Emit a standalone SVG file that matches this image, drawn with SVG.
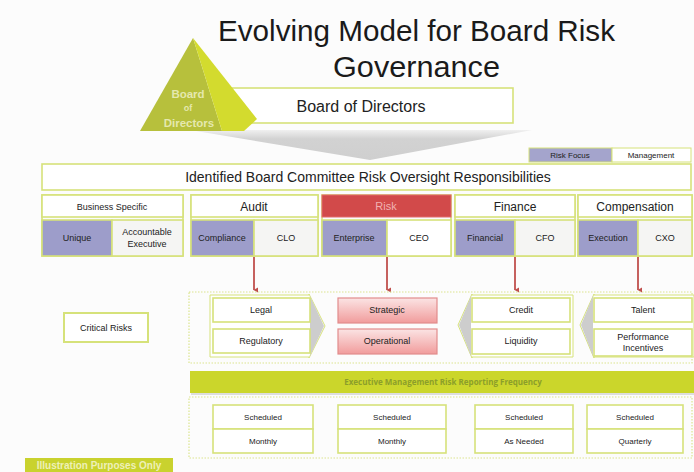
<svg xmlns="http://www.w3.org/2000/svg" width="694" height="472" viewBox="0 0 694 472">
<defs>
<linearGradient id="pink" x1="0" y1="0" x2="0" y2="1">
<stop offset="0" stop-color="#fbe4e4"/>
<stop offset="1" stop-color="#f19c9c"/>
</linearGradient>
<linearGradient id="grayfade" x1="0" y1="0" x2="0" y2="1">
<stop offset="0" stop-color="#f0f0f0"/>
<stop offset="0.3" stop-color="#d2d2d2"/>
<stop offset="1" stop-color="#cfcfcf"/>
</linearGradient>
<marker id="ah" markerWidth="6" markerHeight="6" refX="3" refY="5" orient="auto-start-reverse" markerUnits="userSpaceOnUse">
<path d="M0.5,1 L3,5.5 L5.5,1 Z" fill="#c0504d"/>
</marker>
<style>
.t{font-family:"Liberation Sans",Arial,sans-serif;fill:#222;text-anchor:middle}
.ttl{font-family:"Liberation Sans",Arial,sans-serif;fill:#1a1a1a;text-anchor:middle}
.box{fill:#ffffff;stroke:#d6e27a;stroke-width:1.6}
.cell{fill:#f5f5f3;stroke:#d6e27a;stroke-width:1.6}
.pur{fill:#9d9dca;stroke:#d6e27a;stroke-width:1.6}
.grp{fill:none;stroke:#d6e27a;stroke-width:1.6}
.dot{fill:none;stroke:#dbe48e;stroke-width:1.2;stroke-dasharray:1.5 1.5}
.red{fill:url(#pink);stroke:#e28c8c;stroke-width:1.2}
.chev{fill:#ffffff;stroke:#d6e27a;stroke-width:1}
.arr{stroke:#c0504d;stroke-width:1.8;fill:none;marker-end:url(#ah)}
.s9{font-size:9px}
.s8{font-size:8px}
.s12{font-size:12px}
</style>
</defs>
<rect width="694" height="472" fill="#fcfcfc"/>

<g id="title">
<text class="ttl" x="416.5" y="41" font-size="29" textLength="397" lengthAdjust="spacingAndGlyphs">Evolving Model for Board Risk</text>
<text class="ttl" x="416.5" y="77" font-size="29" textLength="167" lengthAdjust="spacingAndGlyphs">Governance</text>
</g>

<g id="flow-arrow">
<polygon points="190,130 532,130 370,160" fill="url(#grayfade)"/>
</g>

<g id="board">
<rect class="box" x="225" y="88" width="288" height="35"/>
<text class="t" x="361" y="112" font-size="16">Board of Directors</text>
</g>

<g id="pyramid">
<polygon points="193,38 140,131 222,131" fill="#b7c03c"/>
<polygon points="193,38 222,131 244,131 257,119" fill="#d3db2e"/>
<g font-family="'Liberation Sans',Arial,sans-serif" font-weight="bold" fill="#eef0c4" fill-opacity="0.85" text-anchor="middle">
<text x="188" y="98" font-size="11.5">Board</text>
<text x="188" y="111" font-size="9">of</text>
<text x="189" y="127" font-size="11.5">Directors</text>
</g>
</g>

<g id="legend">
<rect x="529" y="148" width="83" height="14" fill="#a4a4cc" stroke="#d6e27a" stroke-width="1"/>
<text class="t s8" x="570" y="158">Risk Focus</text>
<rect x="612" y="148" width="79" height="14" fill="#ffffff" stroke="#d6e27a" stroke-width="1"/>
<text class="t s8" x="651" y="158">Management</text>
</g>

<g id="header">
<rect class="box" x="42" y="164" width="649" height="26"/>
<text class="t" x="368" y="182" font-size="14">Identified Board Committee Risk Oversight Responsibilities</text>
</g>

<g id="business-specific">
<rect class="grp" x="42" y="195" width="141" height="61"/>
<rect class="box" x="42" y="195" width="141" height="22"/>
<text class="t s9" x="112" y="210">Business Specific</text>
<rect class="pur" x="42" y="220" width="70" height="36"/>
<text class="t s9" x="77" y="241">Unique</text>
<rect class="cell" x="112" y="220" width="71" height="36"/>
<text class="t s9" x="147" y="235">Accountable</text>
<text class="t s9" x="147" y="247">Executive</text>
</g>

<g id="audit">
<rect class="grp" x="191" y="195" width="127" height="61"/>
<rect class="box" x="191" y="195" width="127" height="22"/>
<text class="t s12" x="254" y="211">Audit</text>
<rect class="pur" x="191" y="220" width="63" height="36"/>
<text class="t s9" x="222" y="241">Compliance</text>
<rect class="cell" x="254" y="220" width="64" height="36"/>
<text class="t s9" x="286" y="241">CLO</text>
</g>

<g id="risk">
<rect class="grp" x="322" y="195" width="129" height="61"/>
<rect x="322" y="195" width="129" height="22" fill="#d24a4a" stroke="#e06a6a" stroke-width="1"/>
<text class="t" x="386" y="210" font-size="11" style="fill:#f1b2b2">Risk</text>
<rect class="pur" x="322" y="220" width="65" height="36"/>
<text class="t s9" x="354" y="241">Enterprise</text>
<rect class="box" x="387" y="220" width="64" height="36"/>
<text class="t s9" x="419" y="241">CEO</text>
</g>

<g id="finance">
<rect class="grp" x="455" y="195" width="120" height="61"/>
<rect class="box" x="455" y="195" width="120" height="22"/>
<text class="t s12" x="515" y="211">Finance</text>
<rect class="pur" x="455" y="220" width="60" height="36"/>
<text class="t s9" x="485" y="241">Financial</text>
<rect class="cell" x="515" y="220" width="60" height="36"/>
<text class="t s9" x="545" y="241">CFO</text>
</g>

<g id="compensation">
<rect class="grp" x="578" y="195" width="114" height="61"/>
<rect class="box" x="578" y="195" width="114" height="22"/>
<text class="t s12" x="635" y="211">Compensation</text>
<rect class="pur" x="578" y="220" width="60" height="36"/>
<text class="t s9" x="608" y="241">Execution</text>
<rect class="cell" x="638" y="220" width="54" height="36"/>
<text class="t s9" x="665" y="241">CXO</text>
</g>

<g id="connectors">
<line class="arr" x1="254" y1="257" x2="254" y2="290"/>
<line class="arr" x1="387" y1="257" x2="387" y2="290"/>
<line class="arr" x1="515" y1="257" x2="515" y2="290"/>
<line class="arr" x1="638" y1="257" x2="638" y2="290"/>
</g>

<g id="critical-risks-area">
<rect class="dot" x="189" y="292" width="503" height="71"/>
</g>

<g id="critical-risks">
<rect x="64" y="313" width="84" height="29" fill="#ffffff" stroke="#d6e27a" stroke-width="2"/>
<text class="t s9" x="106" y="331">Critical Risks</text>
</g>

<g id="audit-risks">
<polygon class="chev" points="210,295 309,295 309,294 325,326 309,358 309,357 210,357"/>
<polygon points="310,296 324,326 310,356" fill="#cdcdcd"/>
<rect class="box" x="213" y="298" width="97" height="24"/>
<text class="t s9" x="261" y="313">Legal</text>
<rect class="box" x="213" y="329" width="97" height="24"/>
<text class="t s9" x="261" y="344">Regulatory</text>
</g>

<g id="risk-risks">
<rect class="red" x="338" y="298" width="99" height="25"/>
<text class="t s9" x="387" y="313">Strategic</text>
<rect class="red" x="338" y="329" width="99" height="25"/>
<text class="t s9" x="387" y="344">Operational</text>
</g>

<g id="finance-risks">
<polygon class="chev" points="573,295 472,295 472,294 458,325 472,358 472,357 573,357"/>
<polygon points="471,296 459,325 471,356" fill="#cdcdcd"/>
<rect class="box" x="472" y="298" width="98" height="24"/>
<text class="t s9" x="521" y="313">Credit</text>
<rect class="box" x="472" y="329" width="98" height="25"/>
<text class="t s9" x="521" y="344">Liquidity</text>
</g>

<g id="compensation-risks">
<polygon class="chev" points="694,295 594,295 594,294 580,325 594,358 594,357 694,357"/>
<polygon points="593,296 581,325 593,356" fill="#cdcdcd"/>
<rect class="box" x="594" y="298" width="98" height="24"/>
<text class="t s9" x="643" y="313">Talent</text>
<rect class="box" x="594" y="329" width="98" height="27"/>
<text class="t s9" x="643" y="340">Performance</text>
<text class="t s9" x="643" y="351">Incentives</text>
</g>

<g id="frequency-bar">
<rect x="191" y="373" width="503" height="22" fill="#bdbdbd" opacity="0.5"/>
<rect x="190" y="371" width="504" height="22" fill="#cbd62b"/>
<text x="443" y="385" font-family="'Open Sans','Liberation Sans',sans-serif" font-size="8" font-weight="bold" fill="#8c9e2a" text-anchor="middle">Executive Management Risk Reporting Frequency</text>
</g>

<g id="frequency-area">
<rect class="dot" x="189" y="397" width="503" height="61"/>
</g>

<g id="freq-audit">
<rect class="box" x="213" y="405" width="100" height="24"/>
<text class="t s8" x="263" y="420">Scheduled</text>
<rect class="box" x="213" y="429" width="100" height="24"/>
<text class="t s8" x="263" y="444">Monthly</text>
</g>
<g id="freq-risk">
<rect class="box" x="338" y="405" width="108" height="24"/>
<text class="t s8" x="392" y="420">Scheduled</text>
<rect class="box" x="338" y="429" width="108" height="24"/>
<text class="t s8" x="392" y="444">Monthly</text>
</g>
<g id="freq-finance">
<rect class="box" x="475" y="405" width="98" height="24"/>
<text class="t s8" x="524" y="420">Scheduled</text>
<rect class="box" x="475" y="429" width="98" height="24"/>
<text class="t s8" x="524" y="444">As Needed</text>
</g>
<g id="freq-compensation">
<rect class="box" x="587" y="405" width="96" height="24"/>
<text class="t s8" x="635" y="420">Scheduled</text>
<rect class="box" x="587" y="429" width="96" height="24"/>
<text class="t s8" x="635" y="444">Quarterly</text>
</g>

<g id="illustration-note">
<rect x="25" y="458" width="148" height="16" fill="#c9d22e"/>
<text x="99" y="469" font-family="'Liberation Sans',Arial,sans-serif" font-size="10" font-weight="bold" fill="#eef0b8" text-anchor="middle">Illustration Purposes Only</text>
</g>
</svg>
